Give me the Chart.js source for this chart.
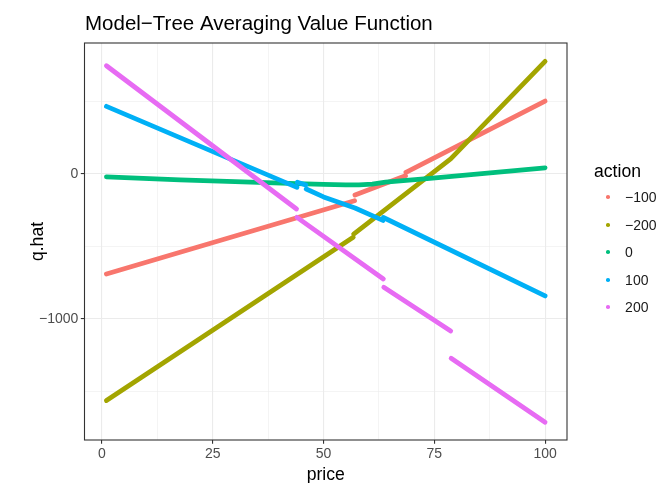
<!DOCTYPE html>
<html>
<head>
<meta charset="utf-8">
<script src="https://cdn.jsdelivr.net/npm/chart.js@4.4.1/dist/chart.umd.min.js"></script>
<style>
  html, body { margin: 0; padding: 0; background: #fff; }
  #wrap { position: relative; width: 659px; height: 483px; font-family: 'Liberation Sans', Arial, sans-serif; }
  #chart { position: absolute; left: 0; top: 0; }
  .ltitle { position: absolute; left: 594px; top: 161px; font-size: 17.6px; line-height: 20px; color: #000; }
  .litem { position: absolute; left: 600px; height: 27.5px; display: flex; align-items: center; font-size: 14px; color: #1a1a1a; }
  .ldot { width: 3.6px; height: 3.6px; border-radius: 50%; margin-left: 6px; margin-right: 15.5px; }
</style>
</head>
<body>
<div id="wrap">
  <canvas id="chart" width="659" height="483"></canvas>
  <div id="legend"></div>
</div>
<script>
const titleText = 'Model\u2212Tree Averaging Value Function';
const actions = ['\u2212100', '\u2212200', '0', '100', '200'];
const colors  = ['#F8766D', '#A3A500', '#00BF7D', '#00B0F6', '#E76BF3'];

// price / q.hat along each action's curve, null = jump between tree leaves
const priceM100 = [1, 57.0, 57.05, 57.1, 68.5, 68.55, 68.6, 100];
const qM100     = [-690, -184, null, -145, -12, null, 12, 503];

const priceM200 = [1, 56.7, 56.75, 56.8, 78.7, 100];
const qM200     = [-1563, -437, null, -414, 105, 777];

const price0 = [1, 17.6, 30, 44, 50, 55, 58, 61, 64, 74, 100];
const q0     = [-19, -40, -53, -66, -72, -75, -75, -69, -56, -30, 43];

const price100 = [1, 44.0, 44.05, 44.1, 46.0, 46.05, 46.1, 50, 57.1, 63.4, 63.45, 63.5, 100];
const q100     = [467, -92, null, -57, -76, null, -103, -158, -234, -320, null, -300, -841];

const price200 = [1, 43.9, 43.95, 44.0, 63.5, 63.55, 63.6, 78.7, 78.75, 78.8, 100];
const q200     = [747, -241, null, -299, -724, null, -781, -1083, null, -1271, -1712];

const xTicks = [0, 12.5, 25, 37.5, 50, 62.5, 75, 87.5, 100];
const xLabeled = [0, 25, 50, 75, 100];
const yTicks = [-1500, -1000, -500, 0, 500];
const yLabeled = [-1000, 0];

const FONT = "'Liberation Sans', Arial, sans-serif";
const series = [[priceM100, qM100], [priceM200, qM200], [price0, q0], [price100, q100], [price200, q200]];

function toPoints(xs, ys) { return xs.map((x, i) => ({ x, y: ys[i] })); }
function fmt(v) { return String(v).replace('-', '\u2212'); }

const panelPlugin = {
  id: 'panel',
  afterDraw(chart) {
    const { ctx, chartArea: a } = chart;
    ctx.save();
    ctx.strokeStyle = '#333333';
    ctx.lineWidth = 1.1;
    ctx.strokeRect(a.left, a.top, a.right - a.left, a.bottom - a.top);
    ctx.fillStyle = '#000';
    ctx.font = `20.5px ${FONT}`;
    ctx.textBaseline = 'alphabetic';
    ctx.fillText(titleText, a.left + 0.5, 29.5);
    ctx.restore();
  }
};

function gridOpts(labeled) {
  return {
    color: '#EBEBEB',
    lineWidth: c => labeled.includes(c.tick && c.tick.value) ? 1.1 : 0.55,
    tickColor: c => labeled.includes(c.tick && c.tick.value) ? '#333333' : 'rgba(0,0,0,0)',
    tickLength: 3.7,
    tickWidth: 1.1
  };
}

new Chart(document.getElementById('chart'), {
  type: 'scatter',
  data: {
    datasets: series.map(([xs, ys], i) => ({
      label: actions[i],
      data: toPoints(xs, ys),
      showLine: true,
      spanGaps: false,
      borderColor: colors[i],
      backgroundColor: colors[i],
      borderWidth: 4.8,
      borderCapStyle: 'round',
      borderJoinStyle: 'round',
      pointRadius: 0,
      order: 4 - i
    }))
  },
  options: {
    responsive: false,
    animation: false,
    layout: { padding: { left: 0, right: 92, top: 43, bottom: 0 } },
    plugins: { legend: { display: false }, tooltip: { enabled: false } },
    scales: {
      x: {
        type: 'linear', min: -3.95, max: 104.95,
        afterBuildTicks: s => { s.ticks = xTicks.map(v => ({ value: v })); },
        afterFit: s => { s.height = 43; },
        grid: gridOpts(xLabeled),
        border: { display: false },
        ticks: {
          autoSkip: false, maxRotation: 0, padding: 2.5, color: '#4D4D4D',
          font: { family: FONT, size: 14 },
          callback: v => xLabeled.includes(v) ? fmt(v) : ''
        },
        title: { display: true, text: 'price', color: '#000', font: { family: FONT, size: 17.6 }, padding: { top: 0, bottom: -2.5 } }
      },
      y: {
        type: 'linear', min: -1835, max: 904,
        afterBuildTicks: s => { s.ticks = yTicks.map(v => ({ value: v })); },
        afterFit: s => { s.width = 84.5; },
        grid: gridOpts(yLabeled),
        border: { display: false },
        ticks: {
          autoSkip: false, padding: 2.5, color: '#4D4D4D',
          font: { family: FONT, size: 14 },
          callback: v => yLabeled.includes(v) ? fmt(v) : ''
        },
        title: { display: true, text: 'q.hat', color: '#000', font: { family: FONT, size: 17.6 }, padding: { top: 28, bottom: 0 } }
      }
    }
  },
  plugins: [panelPlugin]
});

const legend = document.getElementById('legend');
legend.innerHTML = '<div class="ltitle">action</div>' + actions.map((a, i) =>
  `<div class="litem" style="top:${183.5 + i * 27.5}px"><div class="ldot" style="background:${colors[i]}"></div>${a}</div>`
).join('');
</script>
</body>
</html>
